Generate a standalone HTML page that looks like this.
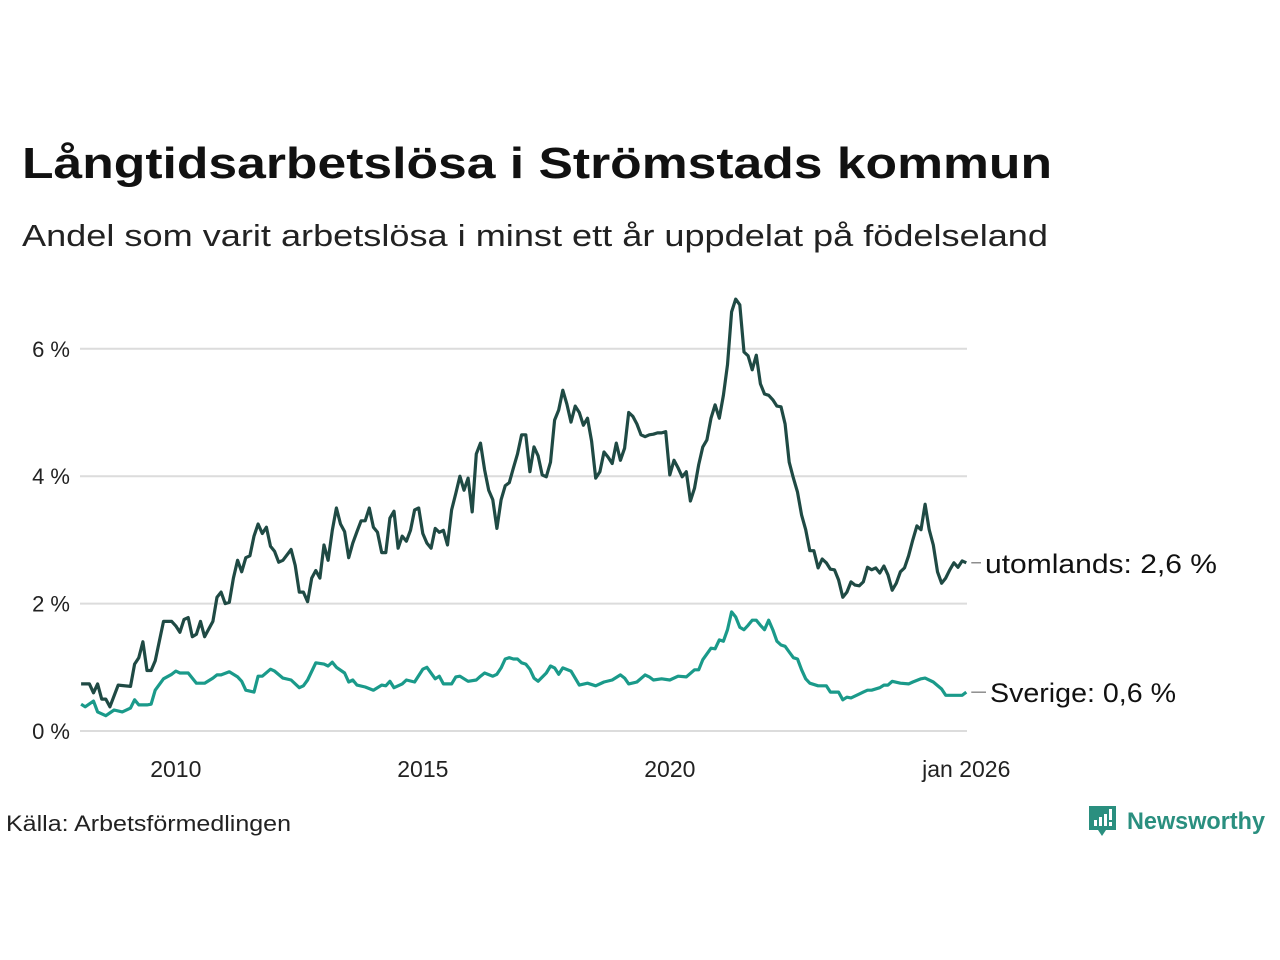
<!DOCTYPE html>
<html><head><meta charset="utf-8"><style>
html,body{margin:0;padding:0;background:#fff;}
svg{display:block;font-family:"Liberation Sans",sans-serif;}
</style></head><body>
<svg id="chart" width="1280" height="960" viewBox="0 0 1280 960">
<text x="22" y="178" font-size="44" font-weight="bold" fill="#111" textLength="1030" lengthAdjust="spacingAndGlyphs">Långtidsarbetslösa i Strömstads kommun</text>
<text x="22" y="246" font-size="31" fill="#222" textLength="1026" lengthAdjust="spacingAndGlyphs">Andel som varit arbetslösa i minst ett år uppdelat på födelseland</text>
<g id="grid"></g>
<g id="yticks"></g>
<g id="xticks"></g>
<g id="lines"></g>
<text x="6" y="831" font-size="22" fill="#222" textLength="285" lengthAdjust="spacingAndGlyphs">Källa: Arbetsförmedlingen</text>
<g>
<path d="M1089 806 h27 v24 h-10 l-4 6 l-4 -6 h-9 z" fill="#2a8f7f"/>
<rect x="1094" y="820" width="3" height="6" fill="#fff"/><rect x="1099" y="817" width="3" height="9" fill="#fff"/><rect x="1104" y="814" width="3" height="12" fill="#fff"/><rect x="1109" y="809" width="3" height="11" fill="#fff"/><rect x="1109" y="822" width="3" height="4" fill="#fff"/>
<text x="1127" y="829" font-size="24" font-weight="bold" fill="#2a8f7f" textLength="138" lengthAdjust="spacingAndGlyphs">Newsworthy</text>
</g>
</svg>
<script>
const yTicks = [0, 2, 4, 6];
const yTickLabels = ["0 %", "2 %", "4 %", "6 %"];
const xTickMonths = [24, 84, 144, 216];
const xTickLabels = ["2010", "2015", "2020", "jan 2026"];
// months since Jan 2008
const utlMonths = [1,3,4,5,6,7,8,10,13,14,15,16,17,18,19,21,23,24,25,26,27,28,29,30,31,33,34,35,36,37,38,39,40,41,42,43,44,45,46,47,48,49,50,52,53,54,55,56,57,58,59,60,61,62,63,64,65,66,67,68,69,70,71,72,73,74,75,76,77,78,79,80,81,82,83,84,85,86,87,88,89,90,91,92,93,94,95,96,97,98,99,100,101,102,103,104,105,106,107,108,109,110,111,112,113,114,115,116,117,118,119,120,121,122,123,124,125,126,127,128,129,130,131,132,133,134,135,136,137,138,139,140,141,142,143,144,145,146,147,148,149,150,151,152,153,154,155,156,157,158,159,160,161,162,163,164,165,166,167,168,169,170,171,172,173,174,175,176,177,178,179,180,181,182,183,184,185,186,187,188,189,190,191,192,193,194,195,196,197,198,199,200,201,202,203,204,205,206,207,208,209,210,211,212,213,214,215,216];
const utlValues = [0.74,0.74,0.6,0.74,0.5,0.5,0.38,0.72,0.7,1.05,1.15,1.4,0.95,0.95,1.1,1.72,1.72,1.65,1.55,1.75,1.78,1.48,1.52,1.72,1.48,1.72,2.1,2.18,2.0,2.02,2.4,2.68,2.5,2.72,2.75,3.06,3.25,3.1,3.2,2.9,2.82,2.65,2.68,2.85,2.6,2.18,2.18,2.03,2.4,2.52,2.4,2.92,2.68,3.15,3.5,3.25,3.13,2.72,2.95,3.13,3.3,3.3,3.5,3.2,3.12,2.8,2.8,3.34,3.45,2.87,3.06,2.98,3.15,3.47,3.5,3.1,2.95,2.87,3.18,3.12,3.15,2.92,3.47,3.73,4.0,3.78,3.97,3.44,4.35,4.52,4.1,3.78,3.63,3.18,3.63,3.85,3.9,4.13,4.35,4.65,4.65,4.07,4.46,4.32,4.02,3.99,4.22,4.88,5.04,5.35,5.13,4.85,5.1,5.0,4.8,4.91,4.55,3.97,4.07,4.38,4.3,4.2,4.52,4.25,4.44,5.0,4.94,4.82,4.65,4.62,4.65,4.66,4.68,4.68,4.7,4.02,4.25,4.13,3.99,4.07,3.61,3.81,4.18,4.46,4.57,4.91,5.12,4.91,5.27,5.75,6.58,6.78,6.69,5.95,5.89,5.67,5.9,5.45,5.29,5.27,5.2,5.1,5.09,4.82,4.22,3.97,3.75,3.39,3.16,2.83,2.83,2.56,2.7,2.64,2.54,2.53,2.37,2.1,2.18,2.34,2.29,2.28,2.34,2.57,2.53,2.56,2.48,2.59,2.45,2.21,2.32,2.5,2.56,2.75,3.0,3.22,3.16,3.56,3.16,2.92,2.5,2.32,2.4,2.53,2.64,2.57,2.67,2.64];
const sweMonths = [1,2,4,5,7,9,11,13,14,15,17,18,19,21,23,24,25,27,29,31,33,34,35,37,39,40,41,43,44,45,47,48,50,52,54,55,56,58,60,61,62,63,65,66,67,68,70,72,74,75,76,77,79,80,82,84,85,87,88,89,91,92,93,95,97,98,99,101,102,103,104,105,106,107,108,109,110,111,112,114,115,116,117,118,120,122,124,126,128,130,132,133,134,136,138,139,140,142,144,146,148,150,151,152,154,155,156,157,158,159,160,161,162,163,164,165,166,167,168,169,170,171,172,173,174,175,176,177,178,180,182,183,185,186,187,188,190,191,192,193,195,196,197,198,200,202,203,205,206,208,210,211,213,215,216];
const sweValues = [0.42,0.38,0.47,0.3,0.24,0.33,0.3,0.36,0.49,0.41,0.41,0.42,0.64,0.82,0.89,0.94,0.91,0.91,0.75,0.75,0.83,0.88,0.88,0.93,0.85,0.78,0.64,0.61,0.86,0.86,0.97,0.94,0.83,0.8,0.68,0.71,0.8,1.07,1.05,1.02,1.08,1.0,0.91,0.77,0.8,0.72,0.69,0.64,0.72,0.71,0.78,0.68,0.74,0.8,0.77,0.97,1.0,0.82,0.86,0.74,0.74,0.85,0.86,0.78,0.8,0.86,0.91,0.86,0.89,0.99,1.13,1.15,1.13,1.13,1.07,1.05,0.97,0.83,0.78,0.91,1.02,0.99,0.89,0.99,0.94,0.72,0.75,0.71,0.77,0.8,0.88,0.83,0.74,0.77,0.88,0.85,0.8,0.82,0.8,0.86,0.85,0.96,0.96,1.12,1.3,1.29,1.43,1.41,1.59,1.87,1.79,1.63,1.59,1.66,1.74,1.74,1.66,1.59,1.74,1.59,1.41,1.35,1.33,1.24,1.15,1.13,0.96,0.82,0.75,0.71,0.71,0.61,0.61,0.49,0.53,0.52,0.58,0.61,0.64,0.64,0.68,0.72,0.72,0.78,0.75,0.74,0.77,0.82,0.83,0.77,0.66,0.56,0.56,0.56,0.61];
const seriesLabels = ["utomlands: 2,6 %", "Sverige: 0,6 %"];
const labelWidths = [232, 186];

const NS = "http://www.w3.org/2000/svg";
const xLeft = 77, monthPx = 4.117;
const y0 = 731, pxPerUnit = 63.7;
function xs(m){ return xLeft + m * monthPx; }
function ys(v){ return y0 - v * pxPerUnit; }
function mk(tag, attrs, parent){ const e = document.createElementNS(NS, tag); for (const k in attrs) e.setAttribute(k, attrs[k]); parent.appendChild(e); return e; }

const grid = document.getElementById('grid'), yt = document.getElementById('yticks'), xt = document.getElementById('xticks'), lines = document.getElementById('lines');
yTicks.forEach((v, i) => {
  const l = mk('line', {x1: 80, x2: 967, y1: ys(v), y2: ys(v), stroke: '#dcdcdc', 'stroke-width': 2}, grid);
  
  
  const t = mk('text', {x: 70, y: ys(v) + 8, 'text-anchor': 'end', 'font-size': 22, fill: '#222'}, yt);
  t.textContent = yTickLabels[i];
  
  
});
xTickMonths.forEach((m, i) => {
  const t = mk('text', {x: xs(m), y: 777, 'text-anchor': 'middle', 'font-size': 23, fill: '#222'}, xt);
  t.textContent = xTickLabels[i];
  
  
});
function drawLine(months, vals, color, name, label, lx, lw){
  const d = months.map((m, i) => (i ? 'L' : 'M') + xs(m).toFixed(1) + ' ' + ys(vals[i]).toFixed(1)).join(' ');
  const p = mk('path', {d: d, fill: 'none', stroke: color, 'stroke-width': 3.2, 'stroke-linejoin': 'round'}, lines);
  
  
  const lastY = ys(vals[vals.length - 1]);
  const lastX = xs(months[months.length - 1]);
  mk('line', {x1: lastX + 5, x2: lx - 4, y1: lastY, y2: lastY, stroke: '#555', 'stroke-width': 1}, lines);
  const t = mk('text', {x: lx, y: lastY + 10, 'font-size': 27, fill: '#111', textLength: lw, lengthAdjust: 'spacingAndGlyphs'}, lines);
  t.textContent = label;
  
  
}
drawLine(sweMonths, sweValues, '#1a9a8a', 'sverige-line', seriesLabels[1], 990, labelWidths[1]);
drawLine(utlMonths, utlValues, '#1f4a44', 'utomlands-line', seriesLabels[0], 985, labelWidths[0]);
</script>
</body></html>
